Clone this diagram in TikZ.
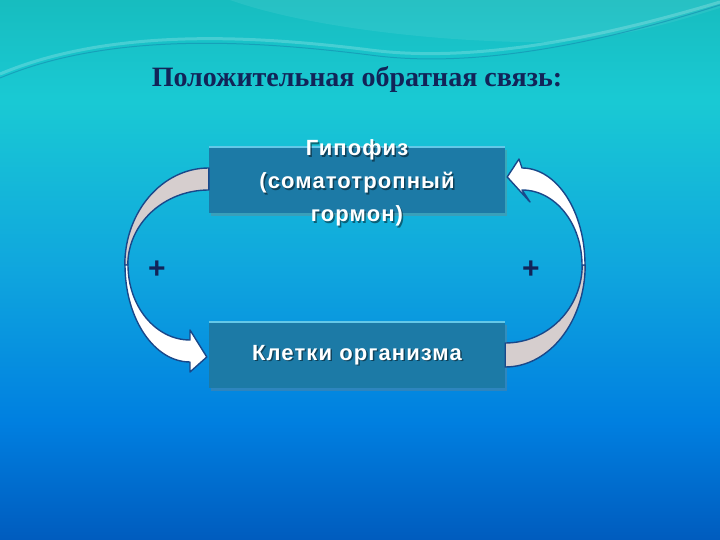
\documentclass[tikz,border=0pt]{standalone}
\usepackage{fontspec}
\setmainfont{Liberation Serif}
\newfontfamily\boxfont[LetterSpace=5]{Liberation Sans}
\newfontfamily\signfont{Liberation Sans}
\usetikzlibrary{positioning,shadows}
\definecolor{boxfill}{RGB}{28,122,166}
\definecolor{boxedge}{RGB}{100,200,232}
\definecolor{navy}{RGB}{18,36,88}
\definecolor{arrowline}{RGB}{25,72,138}
\definecolor{bandgrey}{RGB}{214,206,206}
\definecolor{waveline}{RGB}{20,140,175}
\pgfdeclareverticalshading{slide}{100bp}{rgb(0bp)=(0,0.36,0.745); rgb(25bp)=(0,0.36,0.745);
  rgb(36bp)=(0,0.5,0.88); rgb(50bp)=(0.06,0.65,0.87); rgb(65.7bp)=(0.1,0.79,0.83);
  rgb(75bp)=(0.09,0.74,0.75); rgb(100bp)=(0.09,0.74,0.75)}
\begin{document}
\begin{tikzpicture}[x=1pt, y=1pt,
    organ/.style = {fill=boxfill, minimum width=296pt, minimum height=66pt,
      drop shadow={opacity=0.35, shadow xshift=2pt, shadow yshift=-3pt}},
    organtext/.style = {text=white, font=\boxfont\bfseries\fontsize{22}{33}\selectfont, align=center},
    organshade/.style = {organtext, text=black, opacity=0.45},
    band/.style = {draw=arrowline, line width=1.4pt, line join=round},
    sign/.style = {text=navy, font=\signfont\bfseries\fontsize{30}{30}\selectfont}]
    \useasboundingbox (0,0) rectangle (720,540);
    \shade[shading=slide] (0,0) rectangle (720,540);
    \fill[white, opacity=0.07] (230,540) .. controls (300,515) and (420,500) .. (520,498) .. controls (610,496) and (680,520) .. (720,532) -- (720,540) -- cycle;
    \draw[white, opacity=0.2, line width=3pt] (0,466) .. controls (110,512) and (250,505) .. (370,490) .. controls (480,476) and (610,505) .. (720,538);
    \draw[waveline, opacity=0.6, line width=1pt] (0,462) .. controls (110,508) and (250,500) .. (370,485) .. controls (480,470) and (610,500) .. (720,535);
    \node[font=\bfseries\fontsize{28}{28}\selectfont, text=navy] (title) at (357,461) {Положительная обратная связь:};
    % boxes
    \node[organ] (hyp) at (357,360) {};
    \node[organ] (cells) at (357,185) {};
    \draw[boxedge, line width=1.5pt] (hyp.north west) -- (hyp.north east);
    \draw[boxedge, line width=1.5pt] (cells.north west) -- (cells.north east);
    \node[organshade] (hypshade) at ([xshift=1.5pt, yshift=-4.5pt]hyp.center) {Гипофиз\\(соматотропный\\гормон)};
    \node[organtext] (hyptext) at ([yshift=-3pt]hyp.center) {Гипофиз\\(соматотропный\\гормон)};
    \node[organshade] (cellsshade) at ([xshift=1.5pt, yshift=-1.5pt]cells.center) {Клетки организма};
    \node[organtext] (cellstext) at (cells.center) {Клетки организма};
    % left loop
    \filldraw[band, fill=bandgrey] ([yshift=12pt]hyp.west) arc[start angle=90, end angle=180, x radius=84, y radius=97]
      -- ++(3,0) arc[start angle=180, end angle=90, x radius=81, y radius=75] -- cycle;
    \filldraw[band, fill=white] (125,275) arc[start angle=180, end angle=270, x radius=65, y radius=97]
      -- (190,168) -- ([xshift=-2pt, yshift=-2pt]cells.west) -- (190,210) -- (190,200)
      arc[start angle=270, end angle=180, x radius=62, y radius=75] -- cycle;
    % right loop
    \filldraw[band, fill=bandgrey] ([yshift=-12pt]cells.east) arc[start angle=270, end angle=360, x radius=80, y radius=102]
      -- ++(-3,0) arc[start angle=0, end angle=-90, x radius=77, y radius=78] -- cycle;
    \filldraw[band, fill=white] (585,275) arc[start angle=0, end angle=90, x radius=63, y radius=97]
      -- (519,381) -- ([xshift=2pt, yshift=3pt]hyp.east) -- (530,338) -- (522,350)
      arc[start angle=90, end angle=0, x radius=60, y radius=75] -- cycle;
    \node[sign] (plusleft) at (157,270) {+};
    \node[sign] (plusright) at (531,270) {+};
\end{tikzpicture}
\end{document}
